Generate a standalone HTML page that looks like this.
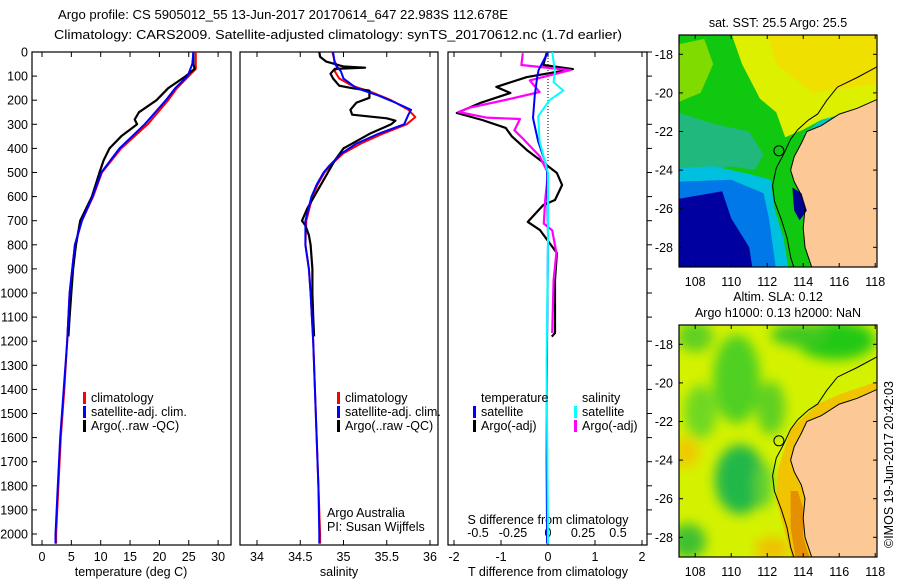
<!DOCTYPE html>
<html><head><meta charset="utf-8"><title>Argo profile</title>
<style>
body{margin:0;background:#fff;}
svg{display:block;font-family:"Liberation Sans",sans-serif;}
text{fill:#000;font-size:12.5px;}
</style></head>
<body>
<svg id="chart" width="900" height="580" viewBox="0 0 900 580" xmlns="http://www.w3.org/2000/svg">
<defs>
<filter id="blur6"><feGaussianBlur stdDeviation="6"/></filter>
<clipPath id="clipTop"><rect x="679" y="35" width="198" height="232"/></clipPath>
<clipPath id="clipBot"><rect x="679" y="325" width="198" height="232"/></clipPath>
</defs>
<text x="58" y="19" font-size="14" textLength="450" lengthAdjust="spacingAndGlyphs">Argo profile: CS 5905012_55 13-Jun-2017 20170614_647 22.983S 112.678E</text>
<text x="54" y="39" font-size="14" textLength="568" lengthAdjust="spacingAndGlyphs">Climatology: CARS2009. Satellite-adjusted climatology: synTS_20170612.nc (1.7d earlier)</text>
<g id="g-panels"></g>
<g id="g-maps"></g>
<text transform="translate(893,548) rotate(-90)" font-size="12.5">©IMOS 19-Jun-2017 20:42:03</text>
</svg>
<script>
// ---------- profile data ----------
const depthTicks = [0,100,200,300,400,500,600,700,800,900,1000,1100,1200,1300,1400,1500,1600,1700,1800,1900,2000];
const tempTicks = [0,5,10,15,20,25,30];
const salTicks = [34,34.5,35,35.5,36];
const tdiffTicks = [-2,-1,0,1,2];
const sdiffTicks = [-0.5,-0.25,0,0.25,0.5];
const sdiffTickLabels = ["-0.5","-0.25","0","0.25","0.5"];

const tempClimDepth = [0,70,100,150,200,300,400,500,600,700,800,1000,1200,1400,1600,1800,2000,2040];
const tempClim = [26.2,26.2,25,23,21.5,18,13.5,10.2,8.7,6.8,5.6,4.7,4.3,3.8,3.2,2.8,2.4,2.4];
const tempSatDepth = [0,50,100,150,200,300,400,500,600,700,800,1000,1200,1400,1600,1800,2000,2040];
const tempSat = [25.8,25.6,24.8,22.7,21.1,17.5,13.2,10.1,8.6,6.8,5.6,4.7,4.3,3.7,3.1,2.7,2.3,2.3];
const tempArgoDepth = [0,50,70,100,150,200,250,280,300,350,400,450,500,600,700,800,900,1000,1100,1180];
const tempArgo = [25.8,25.8,26.0,24.5,21.5,19.5,16.5,15.8,16.2,13.5,11.5,10.5,9.8,8.5,6.5,5.8,5.3,5.0,4.7,4.5];

const salClimDepth = [0,40,60,80,110,140,170,200,240,270,300,340,380,420,470,500,550,600,700,800,900,1000,1200,1500,1800,2000,2040];
const salClim = [34.87,34.9,34.93,34.9,34.95,35.1,35.35,35.55,35.75,35.83,35.73,35.45,35.2,35.0,34.85,34.78,34.7,34.64,34.57,34.56,34.6,34.62,34.65,34.68,34.71,34.73,34.73];
const salSatDepth = [0,50,80,110,150,180,210,240,260,300,340,380,420,470,500,550,600,700,800,900,1000,1200,1500,1800,2000,2040];
const salSat = [34.88,34.9,34.97,35.0,35.15,35.4,35.6,35.78,35.75,35.7,35.4,35.15,34.98,34.84,34.77,34.69,34.63,34.56,34.56,34.6,34.62,34.65,34.68,34.71,34.72,34.72];
const salArgoDepth = [0,20,40,60,65,70,90,110,140,150,160,190,210,240,260,275,285,300,340,380,400,450,500,600,650,700,720,760,800,850,900,1000,1100,1180];
const salArgo = [34.72,34.73,34.8,35.0,35.25,34.9,34.85,34.88,34.95,35.1,35.3,35.3,35.15,35.08,35.1,35.5,35.6,35.55,35.3,35.1,35.0,34.9,34.82,34.66,34.58,34.52,34.56,34.6,34.62,34.63,34.64,34.64,34.65,34.66];

const tdArgoDepth = [5,54,71,104,145,170,212,253,282,315,350,407,448,502,552,614,635,705,739,834,946,1166,1181];
const tdArgo = [-0.03,-0.1,0.53,-0.45,-1.1,-0.8,-1.45,-1.94,-1.4,-0.9,-0.77,-0.45,-0.17,0.19,0.3,0.15,-0.1,-0.43,-0.17,0.19,0.15,0.15,0.08];
const sdArgoDepth = [5,54,75,118,166,197,231,249,272,278,325,359,432,502,614,712,740,834,946,1166];
const sdArgo = [-0.18,-0.19,0.16,-0.13,-0.06,-0.29,-0.56,-0.64,-0.44,-0.2,-0.24,-0.18,-0.06,0,-0.02,-0.03,0.03,0.06,0.04,0.03];
const tdSatDepth = [0,75,104,178,274,370,480,780,1190,1700,2040];
const tdSat = [0,-0.2,-0.23,-0.28,-0.32,-0.21,-0.02,0,-0.02,-0.03,-0.02];
const sdSatDepth = [0,82,125,160,200,267,370,502,780,1280,2040];
const sdSat = [0.03,0.05,0.04,0.11,0.01,-0.07,-0.06,0,0,-0.01,0];

// ---------- axes ----------
const NS="http://www.w3.org/2000/svg";
const yTop=52, pxPer100=24.1, yBot=545;
const yOf = d => yTop + d*pxPer100/100;
const xT = t => 42 + t*5.87;
const xS = s => 257 + (s-34)*86.5;
const xTD = t => 548 + t*47;
const xSD = s => 548 + s*140;
const panels = [[32,231],[240,438],[448,647]];

function mk(tag, attrs, parent){const e=document.createElementNS(NS,tag);for(const k in attrs)e.setAttribute(k,attrs[k]);parent.appendChild(e);return e;}
const gp=document.getElementById('g-panels');

panels.forEach((p,i)=>{
  const r=mk('rect',{x:p[0],y:yTop,width:p[1]-p[0],height:yBot-yTop,fill:'none',stroke:'#000','stroke-width':1.2},gp);
  
  
});
depthTicks.forEach(d=>{
  const y=yOf(d);
  mk('line',{x1:32,x2:37,y1:y,y2:y,stroke:'#000'},gp);
  mk('line',{x1:647,x2:652,y1:y,y2:y,stroke:'#000'},gp);
  const t=mk('text',{x:28,y:y+4.5,'text-anchor':'end'},gp);
  t.textContent=d;
  
  
});
function xticks(ticks,fx,labels,ly){
  ticks.forEach((v,i)=>{
    const x=fx(v);
    mk('line',{x1:x,x2:x,y1:yTop,y2:yTop+5,stroke:'#000'},gp);
    mk('line',{x1:x,x2:x,y1:yBot,y2:yBot-5,stroke:'#000'},gp);
    if(labels){const t=mk('text',{x:x,y:ly,'text-anchor':'middle'},gp);t.textContent=labels[i];
      
      }
  });
}
xticks(tempTicks,xT,tempTicks.map(String),561);
xticks(salTicks,xS,salTicks.map(String),561);
xticks(tdiffTicks,xTD,tdiffTicks.map(String),561);
sdiffTicks.forEach((v,i)=>{const t=mk('text',{x:xSD(v),y:537,'text-anchor':'middle'},gp);t.textContent=sdiffTickLabels[i];
  
  });

function label(txt,x,y,name,anchor){const t=mk('text',{x:x,y:y,'text-anchor':anchor||'middle'},gp);t.textContent=txt;
  
  return t;}
label('temperature (deg C)',131,576,'x-axis-title-temperature');
label('salinity',339,576,'x-axis-title-salinity');
label('T difference from climatology',548,576,'x-axis-title-tdiff');
label('S difference from climatology',548,524,'x-axis-title-sdiff');
label('Argo Australia',327,517,'argo-australia-label','start');
label('PI: Susan Wijffels',327,531,'pi-label','start');

const zl=mk('line',{x1:548,x2:548,y1:yTop,y2:yOf(460),stroke:'#000','stroke-dasharray':'1,2'},gp);



function series(depths,vals,fx,color,w,name){
  const pts=depths.map((d,i)=>fx(vals[i]).toFixed(1)+','+yOf(d).toFixed(1)).join(' ');
  const pl=mk('polyline',{points:pts,fill:'none',stroke:color,'stroke-width':w,'stroke-linejoin':'round'},gp);
  
  
}
series(tempClimDepth,tempClim,xT,'#f00',2,'temp-climatology-line');
series(tempArgoDepth,tempArgo,xT,'#000',2.2,'temp-argo-line');
series(tempSatDepth,tempSat,xT,'#00f',2,'temp-satellite-line');
series(salClimDepth,salClim,xS,'#f00',2,'sal-climatology-line');
series(salArgoDepth,salArgo,xS,'#000',2.2,'sal-argo-line');
series(salSatDepth,salSat,xS,'#00f',2,'sal-satellite-line');
series(tdArgoDepth,tdArgo,xTD,'#000',2.2,'tdiff-argo-line');
series(sdArgoDepth,sdArgo,xSD,'#f0f',2.2,'sdiff-argo-line');
series(tdSatDepth,tdSat,xTD,'#00f',2,'tdiff-satellite-line');
series(sdSatDepth,sdSat,xSD,'#0ff',2,'sdiff-satellite-line');

function legend(x,y,color,txt,name){
  const m=mk('rect',{x:x,y:y-10,width:3,height:12,fill:color},gp);
  
  
  const t=mk('text',{x:x+8,y:y},gp);t.textContent=txt;
  
  
}
legend(83,402,'#f00','climatology','legend-climatology');
legend(83,416,'#00f','satellite-adj. clim.','legend-satellite-adj');
legend(83,430,'#000','Argo(..raw -QC)','legend-argo-raw');
legend(337,402,'#f00','climatology','legend2-climatology');
legend(337,416,'#00f','satellite-adj. clim.','legend2-satellite-adj');
legend(337,430,'#000','Argo(..raw -QC)','legend2-argo-raw');
label('temperature',481,402,'legend-temperature-heading','start');
label('salinity',582,402,'legend-salinity-heading','start');
legend(473,416,'#00f','satellite','legend-t-satellite');
legend(473,430,'#000','Argo(-adj)','legend-t-argo');
legend(574,416,'#0ff','satellite','legend-s-satellite');
legend(574,430,'#f0f','Argo(-adj)','legend-s-argo');

// ---------- maps ----------
const gm=document.getElementById('g-maps');
const mx = lon => 679 + (lon-107.1)*18;
function my(lat,top){return top + (-17.0-lat)*19.3;}
function poly(coords,top,fill,parent,name){
  const pts=coords.map(c=>mx(c[0]).toFixed(1)+','+my(c[1],top).toFixed(1)).join(' ');
  const p=mk('polygon',{points:pts,fill:fill},parent);
  
  
  return p;
}
function line(coords,top,parent,name){
  const pts=coords.map(c=>mx(c[0]).toFixed(1)+','+my(c[1],top).toFixed(1)).join(' ');
  const p=mk('polyline',{points:pts,fill:'none',stroke:'#000','stroke-width':1},parent);
  
  
}
const land=[[118.2,-20.3],[117,-20.8],[116,-21.1],[115,-21.7],[114.2,-22.0],[113.9,-22.6],[113.5,-23.3],[113.3,-24.0],[113.5,-24.6],[113.9,-25.3],[114.1,-26.0],[114.0,-27],[114.1,-28],[114.5,-29.1],[118.2,-29.1]];
const iso=[[118.2,-18.6],[117,-19.2],[115.9,-19.7],[115.3,-20.4],[114.8,-21.1],[114.3,-21.4],[113.7,-21.9],[113.3,-22.4],[112.9,-23.2],[112.5,-23.9],[112.3,-24.8],[112.4,-25.6],[112.8,-26.6],[113.1,-27.5],[113.3,-28.5],[113.5,-29.1]];
const iso2=[[118.2,-19.9],[116.5,-20.5],[115,-21.2],[114.2,-21.8],[113.7,-22.4],[113.3,-23.3],[113.1,-24.2],[113.2,-25],[113.4,-26],[113.5,-27],[113.7,-28],[113.9,-29.1]];

function mapFrame(top,name){
  const r=mk('rect',{x:679,y:top,width:198,height:232,fill:'none',stroke:'#000','stroke-width':1.2},gm);
  
  
  [108,110,112,114,116,118].forEach(l=>{
    const x=mx(l);
    mk('line',{x1:x,x2:x,y1:top,y2:top+4,stroke:'#000'},gm);
    mk('line',{x1:x,x2:x,y1:top+232,y2:top+228,stroke:'#000'},gm);
    const t=mk('text',{x:x,y:top+251,'text-anchor':'middle'},gm);t.textContent=l;
    
    
  });
  [-18,-20,-22,-24,-26,-28].forEach(l=>{
    const y=my(l,top);
    mk('line',{x1:679,x2:683,y1:y,y2:y,stroke:'#000'},gm);
    mk('line',{x1:877,x2:873,y1:y,y2:y,stroke:'#000'},gm);
    const t=mk('text',{x:673,y:y+4.5,'text-anchor':'end'},gm);t.textContent=l;
    
    
  });
}
// top SST map
const gt=mk('g',{'clip-path':'url(#clipTop)'},gm);


const T=35;
poly([[107,-16.9],[118.2,-16.9],[118.2,-29.2],[107,-29.2]],T,'#dcf000',gt,'sst-bg');
poly([[112,-16.9],[118.2,-16.9],[118.2,-19.5],[114.5,-20],[112.5,-18.5]],T,'#f0e000',gt,'sst-warm');
poly([[107,-16.9],[110,-16.9],[110.6,-18.5],[111.6,-20.3],[112.5,-21],[113,-22.3],[114,-21.9],[115,-21.4],[117,-20.9],[118.2,-20.6],[118.2,-29.2],[107,-29.2]],T,'#10c810',gt,'sst-green');
poly([[107,-17.5],[108.5,-17.2],[109,-18.5],[108.3,-20],[107,-20.5]],T,'#80dc00',gt,'sst-lightgreen');
poly([[107,-21],[109,-21.6],[111,-22],[111.8,-23.2],[111.3,-24],[110,-23.8],[108,-24.2],[107,-24.6]],T,'#20b87c',gt,'sst-teal');
poly([[107,-23.9],[109,-23.8],[111,-24.2],[112.2,-24.5],[112.4,-26],[112.9,-27.5],[113.2,-29.2],[107,-29.2]],T,'#00c0e0',gt,'sst-cyan');
poly([[107,-24.6],[110,-24.5],[111.8,-25.2],[112.1,-26.5],[112.5,-29.2],[107,-29.2]],T,'#0078e8',gt,'sst-blue');
poly([[107,-25.5],[109.5,-25.1],[110,-26.5],[111,-28],[111.2,-29.2],[107,-29.2]],T,'#0000a0',gt,'sst-navy');
poly([[113.9,-22.2],[115,-21.4],[117,-20.9],[118.2,-20.6],[118.2,-20.3],[115,-21.7],[114.2,-22.1]],T,'#00c8c0',gt,'sst-coastal');
poly(land,T,'#fcc996',gt,'sst-land');
poly([[113.4,-24.9],[113.9,-25.2],[114.2,-26.1],[113.8,-26.6],[113.5,-26.1]],T,'#000090',gt,'shark-bay');
line(iso,T,gt,'sst-isobath');
line(land.slice(0,14),T,gt,'sst-coastline');
const c1=mk('circle',{cx:mx(112.65),cy:my(-23.0,T),r:5,fill:'none',stroke:'#000','stroke-width':1},gm);


mapFrame(T,'sst-map-frame');
const st=mk('text',{x:778,y:27,'text-anchor':'middle'},gm);st.textContent='sat. SST: 25.5 Argo: 25.5';



// bottom SLA map
const B=325;
const gb=mk('g',{'clip-path':'url(#clipBot)'},gm);


poly([[107,-16.9],[118.2,-16.9],[118.2,-29.2],[107,-29.2]],B,'#d4f200',gb,'sla-bg');
const gbl=mk('g',{filter:'url(#blur6)'},gb);
function blob(lon,lat,rx,ry,fill,name){const e=mk('ellipse',{cx:mx(lon),cy:my(lat,B),rx:rx*18,ry:ry*19.3,fill:fill},gbl);
  
  }
blob(110.3,-19.8,1.3,2.3,'#50d020','sla-blob-1');
blob(115.8,-17.8,2.2,1.0,'#20c818','sla-blob-2');
blob(108.0,-17.6,1.0,0.8,'#60d020','sla-blob-3');
blob(110.5,-25.0,1.4,1.8,'#20b848','sla-blob-4');
blob(108.3,-21.5,0.9,1.4,'#70d820','sla-blob-5');
blob(112.2,-21.3,0.8,1.4,'#60d020','sla-blob-6');
blob(107.6,-28.2,1.0,0.9,'#40c030','sla-blob-7');
blob(113.8,-17.5,1.6,0.6,'#40c820','sla-blob-8');
blob(107.5,-23.6,0.7,0.8,'#f0c800','sla-blob-9');
blob(112.3,-28.6,1.0,0.6,'#f0c000','sla-blob-10');
blob(111.8,-25.3,0.5,1.2,'#60d030','sla-blob-11');
poly([[113.3,-22.4],[114.8,-21.1],[116,-20.6],[118.2,-19.9],[118.2,-20.4],[115,-21.7],[114.2,-22],[113.9,-22.6],[113.5,-23.3],[113.3,-24],[113.5,-24.6],[113.9,-25.3],[114.1,-26],[114,-27],[114.1,-28],[114.5,-29.2],[113.4,-29.2],[112.9,-27.5],[112.5,-26],[112.6,-24.5],[113,-23.3]],B,'#f0c400',gb,'sla-coastal');
poly([[113.3,-25.6],[113.7,-25.6],[114,-26.5],[114,-28],[114.4,-29.2],[113.6,-29.2],[113.3,-27.5]],B,'#e49000',gb,'sla-coastal-dark');
poly(land,B,'#fcc996',gb,'sla-land');
line(iso,B,gb,'sla-isobath');
line(land.slice(0,14),B,gb,'sla-coastline');
const c2=mk('circle',{cx:mx(112.65),cy:my(-23.0,B),r:5,fill:'none',stroke:'#000','stroke-width':1},gm);


mapFrame(B,'sla-map-frame');
const s1=mk('text',{x:778,y:301,'text-anchor':'middle'},gm);s1.textContent='Altim. SLA: 0.12';


const s2=mk('text',{x:778,y:317,'text-anchor':'middle'},gm);s2.textContent='Argo h1000: 0.13 h2000: NaN';


</script>
</body></html>
